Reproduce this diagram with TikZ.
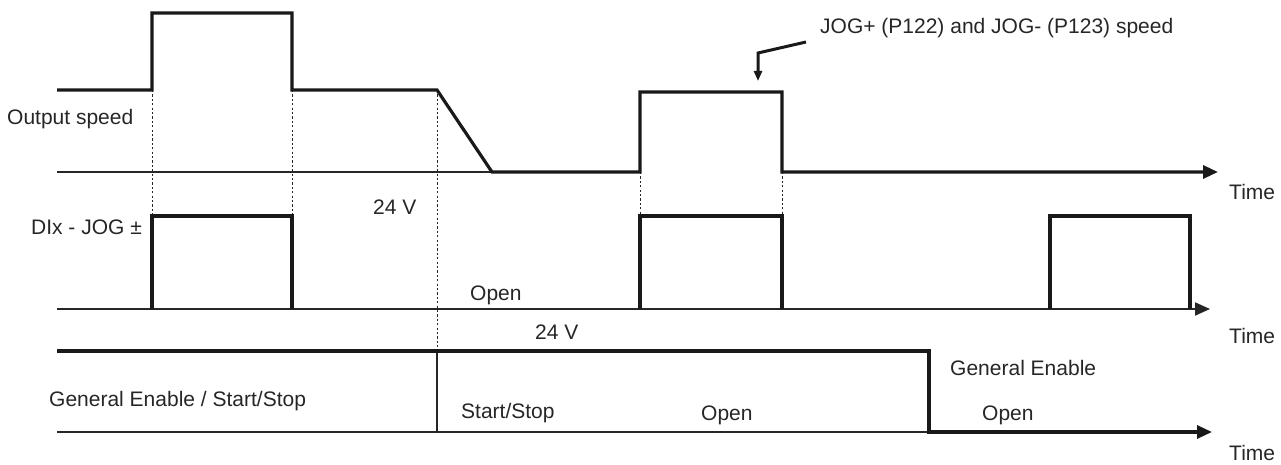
\documentclass[tikz,border=0pt]{standalone}
\usepackage{fontspec}
\setmainfont{Liberation Sans}
\usetikzlibrary{arrows.meta}
\begin{document}
\begin{tikzpicture}[x=1pt,y=-1pt,
  sig/.style={line width=3.2pt, line join=miter, draw=black!90},
  base/.style={line width=1.9pt, draw=black!85},
  thinl/.style={line width=1.5pt, draw=black!85},
  guide/.style={line width=0.9pt, dash pattern=on 2.2pt off 2.2pt, draw=black!85},
  axisarrow/.style={-{Triangle[length=15pt,width=13pt]}},
  lbl/.style={font=\fontsize{21}{24}\selectfont, text=black!85, inner sep=0pt, anchor=base west},
]
\useasboundingbox (0,0) rectangle (1281,465);

% labels
\node[lbl] (outspeed) at (7,125) {Output speed};
\node[lbl, anchor=base east] (dix) at (142,234) {DIx - JOG ±};
\node[lbl] (v24a) at (373,214) {24 V};
\node[lbl] (open1) at (470,300) {Open};
\node[lbl] (v24b) at (535,339) {24 V};
\node[lbl] (gess) at (49,406) {General Enable / Start/Stop};
\node[lbl] (ss) at (461,418) {Start/Stop};
\node[lbl] (open2) at (701,420) {Open};
\node[lbl] (ge) at (950,375) {General Enable};
\node[lbl] (open3) at (982,420) {Open};
\node[lbl] (t1) at (1229,200) {Time};
\node[lbl] (t2) at (1229,343) {Time};
\node[lbl] (t3) at (1229,460) {Time};
\node[lbl] (jog) at (820,34) {JOG+ (P122) and JOG- (P123) speed};

% leader arrow
\coordinate (l1) at (806,42);
\coordinate (l2) at (758,53);
\coordinate (l3) at (758,81);
\draw[line width=3pt, draw=black!90, -{Triangle[length=10pt,width=8pt]}] (l1) -- (l2) -- (l3);

% guides
\draw[guide] (152,90) -- (152,216);
\draw[guide] (292,90) -- (292,216);
\draw[guide] (437,90) -- (437,351);
\draw[guide] (640,172) -- (640,216);
\draw[guide] (782,172) -- (782,216);

% row 1: output speed
\draw[base] (57,172) -- (492,172);
\draw[sig, axisarrow] (57,90) -- (152,90) -- (152,13) -- (292,13) -- (292,90) -- (437,90)
  -- (492,172) -- (640,172) -- (640,92) -- (782,92) -- (782,172) -- (1218,172);

% row 2: DIx
\draw[base, axisarrow] (57,309) -- (1210,309);
\draw[sig] (152,309) -- (152,216) -- (292,216) -- (292,309);
\draw[sig] (640,309) -- (640,216) -- (782,216) -- (782,309);
\draw[sig] (1050,309) -- (1050,216) -- (1190,216) -- (1190,309);

% row 3: general enable
\draw[thinl] (57,432) -- (929,432);
\draw[thinl] (437,351) -- (437,432);
\draw[sig, axisarrow] (57,351) -- (929,351) -- (929,432) -- (1212,432);
\end{tikzpicture}
\end{document}
